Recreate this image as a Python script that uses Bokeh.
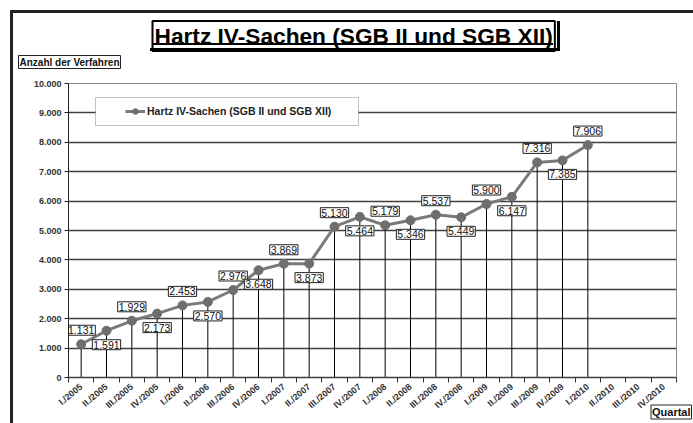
from bokeh.plotting import figure
from bokeh.models import (Range1d, FixedTicker, Title, BoxAnnotation, Legend,
                          LegendItem, ColumnDataSource)
from bokeh.core.properties import value
from bokeh.embed import file_html
from bokeh.resources import INLINE

# ---------------- data ----------------
quarters = ["I./2005", "II./2005", "III./2005", "IV./2005",
            "I./2006", "II./2006", "III./2006", "IV./2006",
            "I./2007", "II./2007", "III./2007", "IV./2007",
            "I./2008", "II./2008", "III./2008", "IV./2008",
            "I./2009", "II./2009", "III./2009", "IV./2009",
            "I./2010", "II./2010", "III./2010", "IV./2010"]
cases = [1131, 1591, 1929, 2173, 2453, 2570, 2976, 3648, 3869, 3873,
         5130, 5464, 5179, 5346, 5537, 5449, 5900, 6147, 7316, 7385, 7906]
y_ticks = [0, 1000, 2000, 3000, 4000, 5000, 6000, 7000, 8000, 9000, 10000]
y_tick_labels = ["0", "1.000", "2.000", "3.000", "4.000", "5.000",
                 "6.000", "7.000", "8.000", "9.000", "10.000"]
series_name = "Hartz IV-Sachen (SGB II und SGB XII)"
chart_title = "Hartz IV-Sachen (SGB II und SGB XII)"
y_title = "Anzahl der Verfahren"
x_title = "Quartal"

FONT = "Liberation Sans"

# ---------------- layout helpers (page pixels -> data) ----------------
FL, FR, FT, FB = 68, 676, 83, 377   # frame edges on the page
N = len(quarters)
YMAX = y_ticks[-1]


def dx(X):
    return (X - FL) / (FR - FL) * N


def dy(Y):
    return (FB - Y) / (FB - FT) * YMAX


def bar(x0, y0, x1, y1, color="#222222"):
    # a solid CSS background stripe (decoration outside the plot frame)
    return (f"linear-gradient({color},{color}) {x0}px {y0}px / "
            f"{x1 - x0}px {y1 - y0}px no-repeat")


W, H = 693, 423
deco = ", ".join([
    bar(10, 10, 13, H),                 # outer chart border, left
    bar(10, 10, W, 13),                 # outer chart border, top
    bar(557, 21, 560, 51, "#000000"),   # title box shadow, right
    bar(150, 48, 560, 51, "#000000"),   # title box shadow, bottom
    bar(152, 43, 553, 45, "#000000"),   # title underline
])

p = figure(width=W, height=H, x_range=Range1d(0, N), y_range=Range1d(0, YMAX),
           output_backend="svg", toolbar_location=None,
           min_border_left=FL, min_border_right=W - FR,
           min_border_top=FT, min_border_bottom=H - FB,
           background_fill_color="white", border_fill_color="white",
           border_fill_alpha=0,
           outline_line_color="#8a8a8a", outline_line_width=1,
           styles={"background": deco + ", #ffffff"})

# ---------------- axes ----------------
xa = p.xaxis[0]
xa.ticker = FixedTicker(ticks=[i + 0.5 for i in range(N)],
                        minor_ticks=list(range(N + 1)))
xa.major_label_overrides = {i + 0.5: q for i, q in enumerate(quarters)}
xa.major_label_orientation = 0.7
xa.major_tick_in = 0
xa.major_tick_out = 0
xa.minor_tick_in = 0
xa.minor_tick_out = 5
xa.minor_tick_line_color = "#333333"
xa.axis_line_color = "#404040"
xa.axis_line_width = 1.5
xa.major_label_standoff = 3
xa.major_label_text_font = FONT
xa.major_label_text_font_size = "9px"
xa.major_label_text_font_style = "bold"
xa.major_label_text_color = "#333333"

ya = p.yaxis[0]
ya.ticker = FixedTicker(ticks=y_ticks)
ya.major_label_overrides = dict(zip(y_ticks, y_tick_labels))
ya.minor_tick_line_color = None
ya.major_tick_in = 0
ya.major_tick_out = 4
ya.major_tick_line_color = "#222222"
ya.axis_line_color = "#222222"
ya.axis_line_width = 1
ya.major_label_standoff = 3
ya.major_label_text_font = FONT
ya.major_label_text_font_size = "9px"
ya.major_label_text_font_style = "bold"
ya.major_label_text_color = "#333333"

p.xgrid.visible = False
p.ygrid.ticker = FixedTicker(ticks=y_ticks[1:-1])
p.ygrid.grid_line_color = "#404040"
p.ygrid.grid_line_width = 1.5

# ---------------- data marks ----------------
src = ColumnDataSource(dict(
    x=[i + 0.5 for i in range(len(cases))],
    y=cases,
    base=[0] * len(cases),
    label=[f"{v:,}".replace(",", ".") for v in cases],
    yoff=[-14 if i % 2 == 0 else 14 for i in range(len(cases))],
))

p.segment(x0="x", y0="base", x1="x", y1="y", source=src,
          line_color="black", line_width=1)

# legend background box
p.add_layout(BoxAnnotation(left=dx(95), right=dx(358), top=dy(97), bottom=dy(125),
                           fill_color="white", fill_alpha=1,
                           line_color="#333333", line_width=1))

line_r = p.line("x", "y", source=src, line_color="#7a7a7a", line_width=3)
pts_r = p.scatter("x", "y", source=src, size=9, fill_color="#6e6e6e",
                  line_color="#6e6e6e")

p.text(x="x", y="y", text="label", y_offset="yoff", source=src,
       text_align="center", text_baseline="middle",
       text_font=value(FONT), text_font_size="10.5px", text_color="#111111",
       background_fill_color="white", border_line_color="#222222",
       border_line_width=1, padding=1)

legend = Legend(items=[LegendItem(label=series_name, renderers=[line_r, pts_r])],
                location=(125 - FL, (FB - FT) - (111 - FT) - 7),
                padding=0, margin=0, spacing=0,
                glyph_width=20, glyph_height=14, label_height=14,
                label_standoff=2,
                background_fill_alpha=0, border_line_alpha=0,
                label_text_font=FONT, label_text_font_size="10.5px",
                label_text_font_style="bold", label_text_color="#222222")
p.add_layout(legend)

# ---------------- titles in the side panels ----------------
# nearest to the frame: y-axis caption
p.add_layout(Title(text=y_title, align="left", vertical_align="bottom",
                   offset=18 - FL, standoff=30,
                   text_font=FONT, text_font_size="10px", text_font_style="bold",
                   text_color="#111111", background_fill_alpha=0,
                   border_line_color="#222222", border_line_width=1, padding=1),
             "above")
# main chart title
p.add_layout(Title(text=chart_title, align="left", vertical_align="bottom",
                   offset=152 - FL, standoff=-25,
                   text_font=FONT, text_font_size="22.7px", text_font_style="bold",
                   text_color="black", background_fill_alpha=0,
                   border_line_color="black", border_line_width=2, padding=2),
             "above")
# x-axis caption
p.add_layout(Title(text=x_title, align="right", vertical_align="top",
                   offset=FR - 691, standoff=-25,
                   text_font=FONT, text_font_size="11px", text_font_style="bold",
                   text_color="#111111", background_fill_color="white",
                   border_line_color="#222222", border_line_width=1, padding=1),
             "below")

open("out.html", "w").write(file_html(p, INLINE))
